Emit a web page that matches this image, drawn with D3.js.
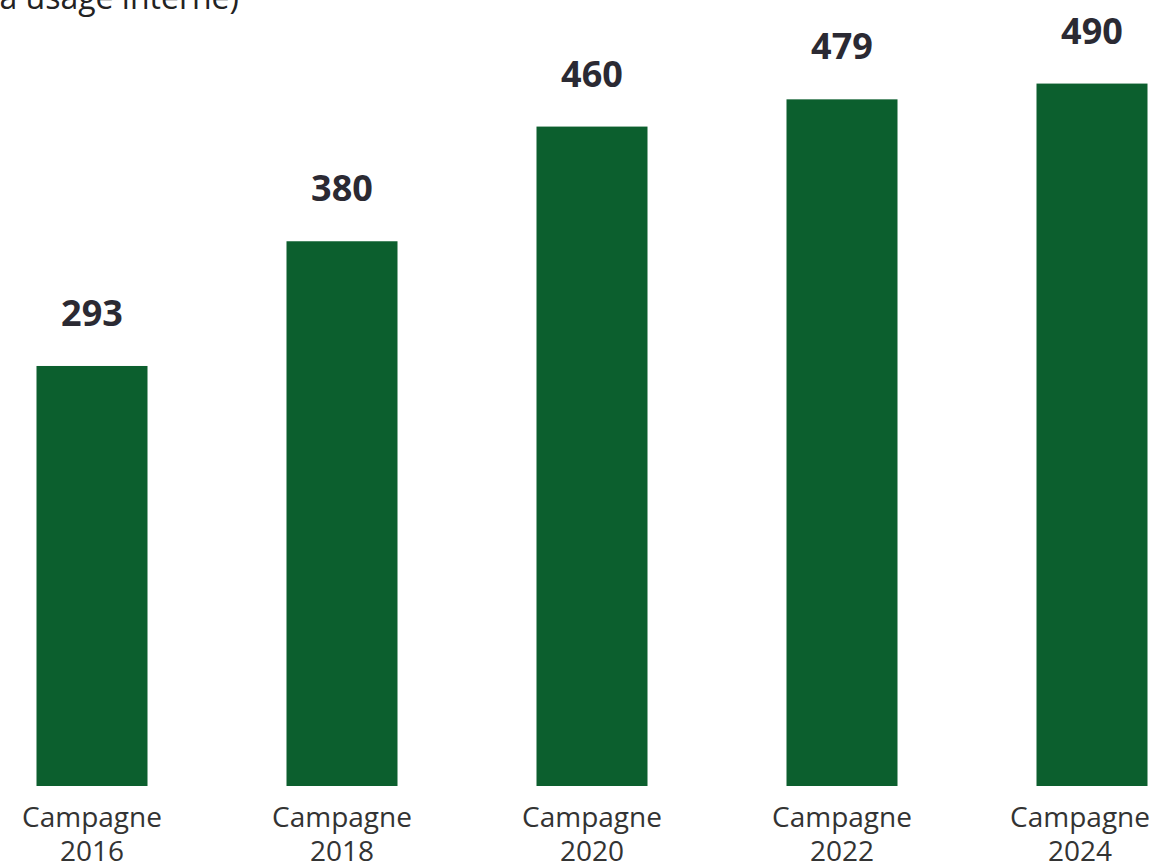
<!DOCTYPE html>
<html>
<head>
<meta charset="utf-8">
<script src="https://cdn.jsdelivr.net/npm/d3@7"></script>
<style>
  body { margin: 0; background: #fff; }
  svg { display: block; }
  .val { font-family: "Open Sans", "Noto Sans", sans-serif; font-weight: 700; font-size: 36px; fill: #2b2a33; }
  .cat { font-family: "Open Sans", "Noto Sans", sans-serif; font-size: 28px; fill: #333; }
  .note { font-family: "Open Sans", "Noto Sans", sans-serif; font-size: 32px; fill: #222; }
</style>
</head>
<body>
<script>
var w = 1155;
var h = 863;

// campagnes and counts
var years = ["2016", "2018", "2020", "2022", "2024"];
var counts = [293, 380, 460, 479, 490];
var catPrefix = "Campagne";

var svg = d3.select("body")
    .append("svg")
    .attr("width", w)
    .attr("height", h);

var xScale = d3.scaleBand()
    .domain(years)
    .range([-33, 1217])
    .paddingInner(0.556)
    .paddingOuter(0.278);

var yScale = d3.scaleLinear()
    .domain([0, 548.3])
    .range([786, 0]);

// partially visible note at the top
svg.append("text")
    .attr("class", "note")
    .attr("x", 239)
    .attr("y", 9)
    .attr("text-anchor", "end")
    .text("(à usage interne)");

svg.selectAll("rect.bar")
    .data(counts)
    .enter()
    .append("rect")
    .attr("class", "bar")
    .attr("x", function(d, i) { return xScale(years[i]); })
    .attr("y", function(d) { return yScale(d); })
    .attr("width", xScale.bandwidth())
    .attr("height", function(d) { return yScale(0) - yScale(d); })
    .attr("fill", "#0c5f2e");

svg.selectAll("text.val")
    .data(counts)
    .enter()
    .append("text")
    .attr("class", "val")
    .attr("text-anchor", "middle")
    .attr("x", function(d, i) { return xScale(years[i]) + xScale.bandwidth() / 2; })
    .attr("y", function(d) { return yScale(d) - 40; })
    .text(function(d) { return d; });

var cats = svg.selectAll("text.cat")
    .data(years)
    .enter()
    .append("text")
    .attr("class", "cat")
    .attr("text-anchor", "middle")
    .attr("y", 827);

cats.append("tspan")
    .attr("class", "l1")
    .text(catPrefix);

cats.append("tspan")
    .attr("class", "l2")
    .attr("dy", 34)
    .text(function(d) { return d; });

// keep the last label inside the picture
var halfW = cats.select("tspan.l1").node().getComputedTextLength() / 2;
function labelX(d) {
  var cx = xScale(d) + xScale.bandwidth() / 2;
  return Math.min(cx, w - 5 - halfW);
}
cats.selectAll("tspan").attr("x", function() { return labelX(d3.select(this.parentNode).datum()); });
</script>
</body>
</html>
